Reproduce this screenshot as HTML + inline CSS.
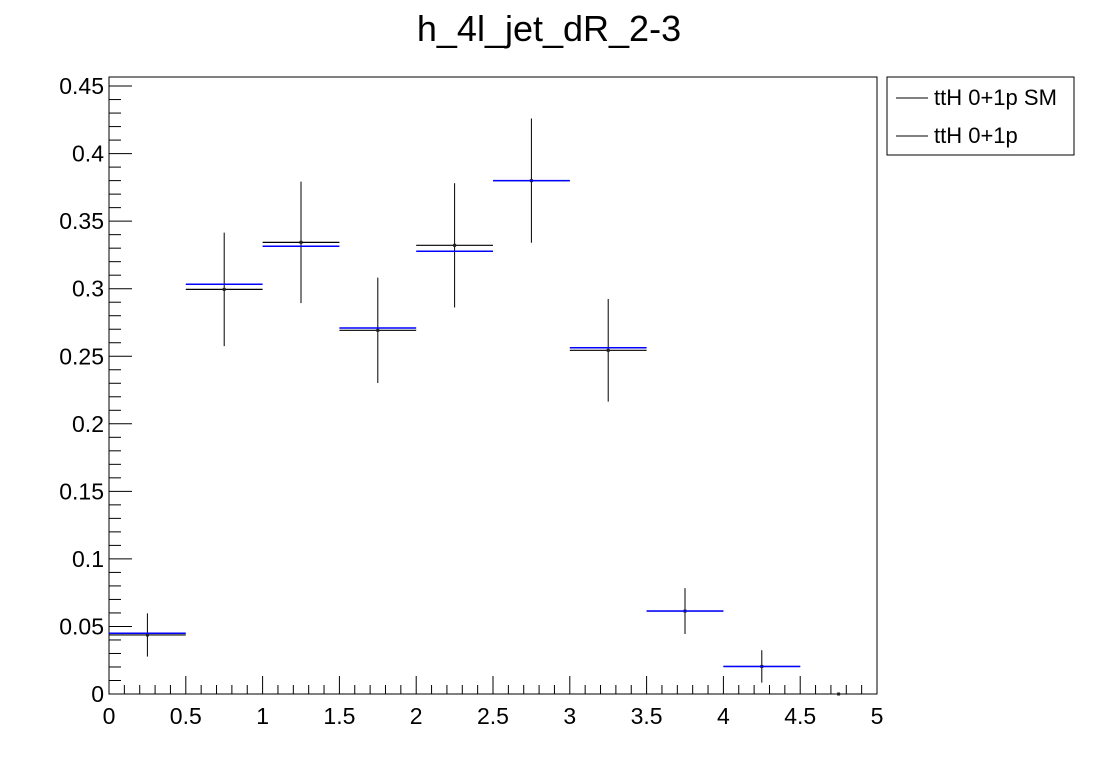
<!DOCTYPE html>
<html><head><meta charset="utf-8"><style>
body{margin:0;background:#fff;}
svg text{font-family:"Liberation Sans",sans-serif;}
</style></head><body>
<svg id="c" width="1096" height="772">
<text x="549" y="41" font-size="36" text-anchor="middle">h_4l_jet_dR_2-3</text>
<rect x="109" y="77" width="768" height="617" fill="none" stroke="#000" stroke-width="1"/>
<g id="axes"></g>
<g id="marks"></g>
<g>
<rect x="887" y="77" width="187" height="78" fill="#fff" stroke="#000"/>
<g><line x1="896" x2="928" y1="98" y2="98" stroke="#000"/><text x="934" y="105" font-size="22">ttH 0+1p SM</text></g>
<g><line x1="896" x2="928" y1="136" y2="136" stroke="#000"/><text x="934" y="143" font-size="22">ttH 0+1p</text></g>
</g>
</svg>
<script>
const binCenters=[0.25,0.75,1.25,1.75,2.25,2.75,3.25,3.75,4.25,4.75];
const smValues=[0.0437,0.2995,0.3343,0.2692,0.3321,0.380,0.2544,0.0614,0.0204,0];
const smErrors=[0.016,0.042,0.045,0.039,0.046,0.046,0.038,0.017,0.012,0];
const bsmValues=[0.045,0.3033,0.3314,0.2709,0.3277,0.380,0.2563,0.0614,0.0204,0];
const xTicks=[0,0.5,1,1.5,2,2.5,3,3.5,4,4.5,5];
const xTickLabels=["0","0.5","1","1.5","2","2.5","3","3.5","4","4.5","5"];
const yTicks=[0,0.05,0.1,0.15,0.2,0.25,0.3,0.35,0.4,0.45];
const yTickLabels=["0","0.05","0.1","0.15","0.2","0.25","0.3","0.35","0.4","0.45"];
const binHalf=0.25;
const NS="http://www.w3.org/2000/svg";
const X=v=>109+v*153.6;
const Y=v=>694-v*1351;
function mk(parent,tag,attrs){const e=document.createElementNS(NS,tag);for(const k in attrs)e.setAttribute(k,attrs[k]);parent.appendChild(e);return e;}
const ax=document.getElementById('axes');
for(let i=0;i<=50;i++){const v=i*0.1;const major=i%5===0;
 const t=mk(ax,'line',{x1:X(v),x2:X(v),y1:694,y2:major?676:685,stroke:'#000'});
 
 }
xTicks.forEach((v,i)=>{const t=mk(ax,'text',{x:X(v),y:724,'font-size':23,'text-anchor':'middle'});t.textContent=xTickLabels[i];
 
 });
for(let i=0;i<=45;i++){const v=i*0.01;const major=i%5===0;
 const t=mk(ax,'line',{x1:109,x2:major?132:121,y1:Y(v),y2:Y(v),stroke:'#000'});
 
 }
yTicks.forEach((v,i)=>{const t=mk(ax,'text',{x:104,y:Y(v)+8,'font-size':23,'text-anchor':'end'});t.textContent=yTickLabels[i];
 
 });
const mg=document.getElementById('marks');
binCenters.forEach((c,i)=>{
 const g=mk(mg,'g',{});
 
 
 if(smValues[i]>0){
 mk(g,'line',{x1:X(c-binHalf),x2:X(c+binHalf),y1:Y(smValues[i]),y2:Y(smValues[i]),stroke:'#000','stroke-width':1.2});
 mk(g,'line',{x1:X(c),x2:X(c),y1:Y(smValues[i]+smErrors[i]),y2:Y(smValues[i]-smErrors[i]),stroke:'#000','stroke-width':1});}
 mk(g,'rect',{x:X(c)-1.5,y:Y(smValues[i])-1.5,width:3,height:3,fill:'#222'});
});
binCenters.forEach((c,i)=>{
 if(bsmValues[i]<=0)return;
 const b=mk(mg,'line',{x1:X(c-binHalf),x2:X(c+binHalf),y1:Y(bsmValues[i]),y2:Y(bsmValues[i]),stroke:'#00f','stroke-width':1.5});
 
 
});
</script>
</body></html>
